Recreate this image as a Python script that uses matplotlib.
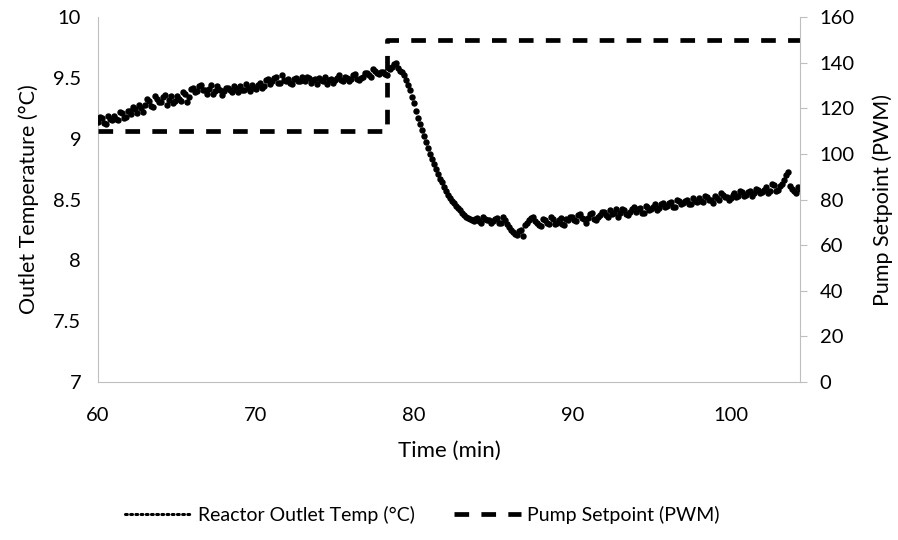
import numpy as np
import matplotlib
matplotlib.use("Agg")
import matplotlib.pyplot as plt
from matplotlib.lines import Line2D

plt.rcParams["font.family"] = ["Lato", "DejaVu Sans"]

# reactor outlet temperature, logged every 0.125 min from t = 60 min;
# stored as two interleaved runs (even / odd samples)
t0, dt = 60.0, 0.25
temp_even = [
    9.14, 9.17, 9.12, 9.16,  9.19, 9.15, 9.21, 9.18,  9.23, 9.26, 9.21, 9.25,
    9.28, 9.31, 9.26, 9.33,  9.30, 9.36, 9.32, 9.29,  9.35, 9.31, 9.37, 9.34,
    9.42, 9.39, 9.44, 9.40,  9.41, 9.37, 9.43, 9.40,  9.39, 9.42, 9.38, 9.41,
    9.43, 9.40, 9.42, 9.44,  9.41, 9.46, 9.43, 9.49,  9.47, 9.51, 9.46, 9.48,
    9.49, 9.45, 9.50, 9.47,  9.48, 9.51, 9.46, 9.49,  9.50, 9.47, 9.45, 9.49,
    9.48, 9.52, 9.47, 9.50,  9.49, 9.53, 9.48, 9.51,  9.54, 9.51, 9.56, 9.53,
    9.55, 9.52, 9.57, 9.61,  9.58, 9.55, 9.48, 9.40,  9.29, 9.17, 9.07, 8.97,
    8.87, 8.79, 8.71, 8.64,  8.57, 8.51, 8.47, 8.43,  8.39, 8.36, 8.34, 8.32,
    8.35, 8.31, 8.34, 8.33,  8.32, 8.35, 8.31, 8.33,  8.27, 8.23, 8.21, 8.25,
    8.29, 8.33, 8.36, 8.31,  8.28, 8.33, 8.30, 8.34,  8.31, 8.35, 8.29, 8.33,
    8.36, 8.32, 8.38, 8.34,  8.35, 8.39, 8.33, 8.37,  8.40, 8.36, 8.38, 8.42,
    8.39, 8.41, 8.37, 8.42,  8.40, 8.43, 8.39, 8.44,  8.42, 8.46, 8.43, 8.47,
    8.45, 8.48, 8.44, 8.49,  8.47, 8.50, 8.46, 8.49,  8.51, 8.48, 8.52, 8.50,
    8.53, 8.50, 8.54, 8.52,  8.51, 8.55, 8.53, 8.56,  8.54, 8.57, 8.55, 8.58,
    8.56, 8.60, 8.57, 8.62,  8.58, 8.63, 8.70, 8.61,  8.57, 8.60,
]
temp_odd = [
    9.18, 9.13, 9.19, 9.15,  9.16, 9.22, 9.17, 9.23,  9.20, 9.24, 9.28, 9.22,
    9.33, 9.27, 9.35, 9.30,  9.34, 9.28, 9.35, 9.31,  9.33, 9.38, 9.30, 9.41,
    9.38, 9.43, 9.40, 9.37,  9.44, 9.39, 9.41, 9.36,  9.42, 9.40, 9.43, 9.38,
    9.40, 9.45, 9.39, 9.42,  9.44, 9.42, 9.48, 9.45,  9.50, 9.46, 9.52, 9.47,
    9.46, 9.49, 9.47, 9.51,  9.47, 9.50, 9.48, 9.45,  9.48, 9.51, 9.48, 9.46,
    9.50, 9.48, 9.51, 9.47,  9.52, 9.49, 9.50, 9.54,  9.52, 9.57, 9.54, 9.55,
    9.53, 9.58, 9.59, 9.62,  9.56, 9.52, 9.44, 9.34,  9.23, 9.12, 9.02, 8.92,
    8.83, 8.75, 8.67, 8.60,  8.54, 8.49, 8.45, 8.41,  8.37, 8.35, 8.33, 8.34,
    8.32, 8.36, 8.33, 8.31,  8.34, 8.31, 8.36, 8.30,  8.25, 8.22, 8.24, 8.20,
    8.31, 8.35, 8.32, 8.29,  8.34, 8.31, 8.36, 8.30,  8.33, 8.30, 8.34, 8.36,
    8.33, 8.37, 8.35, 8.31,  8.38, 8.34, 8.36, 8.40,  8.37, 8.41, 8.39, 8.36,
    8.42, 8.38, 8.40, 8.44,  8.42, 8.39, 8.45, 8.41,  8.44, 8.41, 8.46, 8.44,
    8.47, 8.44, 8.50, 8.46,  8.49, 8.46, 8.51, 8.48,  8.49, 8.53, 8.50, 8.47,
    8.51, 8.55, 8.52, 8.50,  8.54, 8.52, 8.57, 8.53,  8.56, 8.53, 8.59, 8.55,
    8.58, 8.55, 8.63, 8.57,  8.61, 8.66, 8.73, 8.59,  8.55, 8.59,
]
time_even = t0 + dt * np.arange(len(temp_even))
time_odd = t0 + dt / 2 + dt * np.arange(len(temp_odd))

# pump setpoint (PWM) step
pump_t = [60.0, 78.3, 78.3, 104.4]
pump_v = [110, 110, 150, 150]

GRAY = "#BFBFBF"
TICK_FS = 14.5
LABEL_FS = 15.5

fig = plt.figure(figsize=(8.98, 5.40), dpi=100)
ax = fig.add_axes([0.109, 0.2926, 0.782, 0.6759])
ax2 = ax.twinx()

for tt, vv in ((time_even, temp_even), (time_odd, temp_odd)):
    ax.plot(tt, vv, ls="none", marker="o", ms=3.6, color="black", zorder=3)
ax2.plot(pump_t, pump_v, color="black", lw=3.4, dashes=(3.1, 2.6))

ax.set_xlim(60, 104.4)
ax.set_ylim(7, 10)
ax2.set_ylim(0, 160)
ax.set_xticks([60, 70, 80, 90, 100])
ax.set_yticks([7, 7.5, 8, 8.5, 9, 9.5, 10])
ax.set_yticklabels(["7", "7.5", "8", "8.5", "9", "9.5", "10"])
ax2.set_yticks(range(0, 161, 20))

for a in (ax, ax2):
    a.spines["top"].set_visible(False)
    for s in ("left", "right", "bottom"):
        a.spines[s].set_color(GRAY)
ax.spines["right"].set_visible(False)
ax2.spines["left"].set_visible(False)
ax2.spines["bottom"].set_visible(False)

ax.tick_params(axis="both", length=0, labelsize=TICK_FS)
ax.tick_params(axis="x", pad=18)
ax.tick_params(axis="y", pad=12)
ax2.tick_params(axis="y", length=5, color=GRAY, labelsize=TICK_FS, pad=9)

ax.set_xlabel("Time (min)", fontsize=LABEL_FS + 0.5, labelpad=12)
ax.set_ylabel("Outlet Temperature (°C)", fontsize=LABEL_FS, labelpad=10)
ax2.set_ylabel("Pump Setpoint (PWM)", fontsize=LABEL_FS, labelpad=13)

handles = [
    Line2D([], [], color="black", lw=2.2, ls=(0, (0.6, 1.1)), dash_capstyle="round"),
    Line2D([], [], color="black", lw=3.4, dashes=(3.1, 2.6)),
]
fig.legend(handles, ["Reactor Outlet Temp (°C)", "Pump Setpoint (PWM)"],
           loc="center", bbox_to_anchor=(0.47, 0.046), ncol=2, frameon=False,
           fontsize=14, handlelength=3.45, handletextpad=0.3, columnspacing=2.0)

fig.savefig("out.png", dpi=100)
